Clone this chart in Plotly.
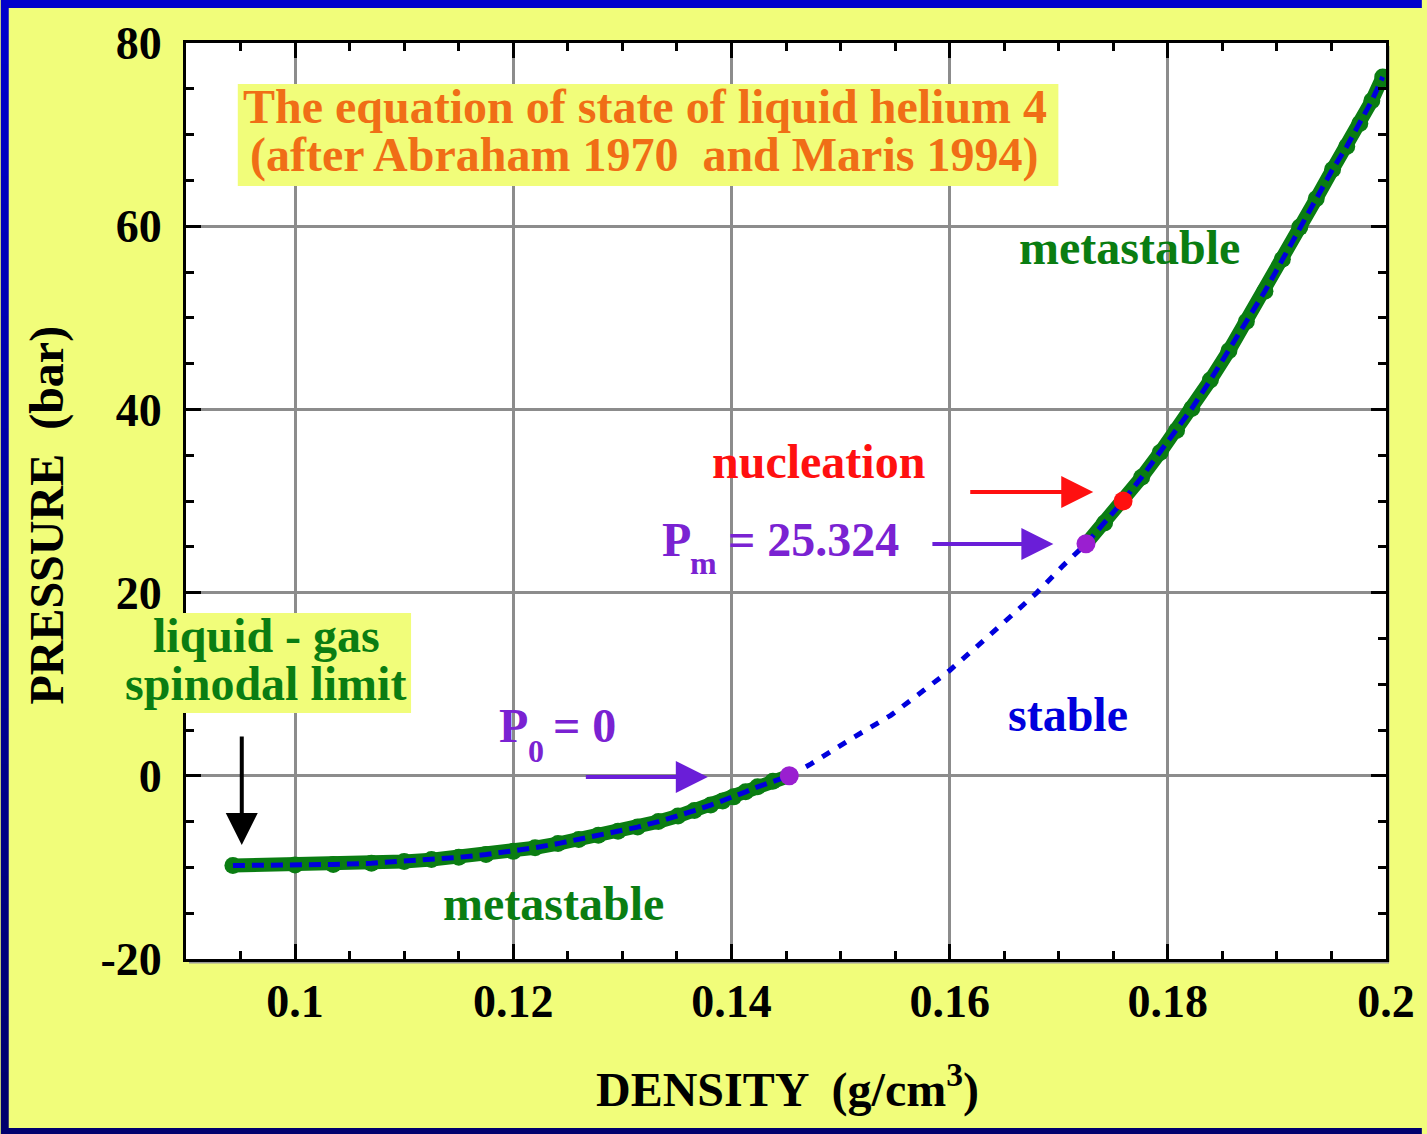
import plotly.graph_objects as go

# ---------------- data ----------------
rho_low = [0.0943, 0.1000, 0.1035, 0.1070, 0.1100, 0.1125, 0.1150, 0.1175, 0.1200, 0.1220,
           0.1241, 0.1260, 0.1278, 0.1296, 0.1314, 0.1333, 0.1351, 0.1366, 0.1381, 0.1392,
           0.1402, 0.1413, 0.1424, 0.1438, 0.1453]
p_low = [-9.80, -9.75, -9.68, -9.55, -9.35, -9.15, -8.90, -8.60, -8.25, -7.85,
         -7.40, -6.95, -6.50, -6.05, -5.60, -5.00, -4.40, -3.80, -3.20, -2.75,
         -2.30, -1.75, -1.20, -0.60, 0.00]

rho_mid = [0.1453, 0.1473, 0.1512, 0.1546, 0.1576, 0.1600, 0.1640, 0.1680, 0.1704, 0.1725]
p_mid = [0.00, 1.30, 4.20, 6.60, 9.30, 11.50, 15.70, 20.00, 22.95, 25.32]

rho_high = [0.1725, 0.1742, 0.1759, 0.1776, 0.1793, 0.1808, 0.1822, 0.1839, 0.1856, 0.1872,
            0.1889, 0.1905, 0.1921, 0.1936, 0.1951, 0.1964, 0.1976, 0.1987, 0.1997]
p_high = [25.32, 27.60, 30.00, 32.60, 35.30, 37.70, 40.10, 43.20, 46.40, 49.60,
          52.90, 56.40, 59.90, 63.00, 66.20, 68.70, 71.20, 73.70, 76.30]

point_rho = [0.1453, 0.1725]          # P0 and Pm
point_p = [0.0, 25.324]
nucleation_rho = [0.1759]
nucleation_p = [30.0]

x_ticks = [0.1, 0.12, 0.14, 0.16, 0.18, 0.2]
x_ticktext = ["0.1", "0.12", "0.14", "0.16", "0.18", "0.2"]
y_ticks = [-20, 0, 20, 40, 60, 80]
y_ticktext = ["-20", "0", "20", "40", "60", "80"]

# ---------------- styling ----------------
FONT = "Liberation Serif, Times New Roman, serif"
YELLOW = "#F1FD7A"
GREEN = "#0A7D12"
BLUE = "#0000DD"
ORANGE = "#F06E16"
PURPLE_T = "#7A22D2"
PURPLE_A = "#6A1ED8"
PURPLE_M = "#9A1FD0"
RED = "#FF1010"

W, H = 1427, 1134
L, R, T, B = 186, 36, 43, 175
PW, PH = W - L - R, H - T - B


def PX(px):
    return (px - L) / PW


def PY(py):
    return (H - B - py) / PH


def RHO(px):
    return 0.09 + (px - L) * 0.11 / PW


def PR(py):
    return 80 - (py - T) * 100 / PH


fig = go.Figure()

# green metastable branches
for xs, ys in ((rho_low, p_low), (rho_high, p_high)):
    fig.add_trace(go.Scatter(x=xs, y=ys, mode="lines+markers",
                             line=dict(color=GREEN, width=14),
                             marker=dict(color=GREEN, size=17, line=dict(width=0)),
                             hoverinfo="skip", showlegend=False))
# blue curve
for xs, ys in ((rho_low, p_low), (rho_high, p_high)):
    fig.add_trace(go.Scatter(x=xs, y=ys, mode="lines",
                             line=dict(color=BLUE, width=5, dash="12px,7px"),
                             hoverinfo="skip", showlegend=False))
fig.add_trace(go.Scatter(x=rho_mid, y=p_mid, mode="lines",
                         line=dict(color=BLUE, width=5, dash="9px,10px"),
                         hoverinfo="skip", showlegend=False))
# special points
fig.add_trace(go.Scatter(x=point_rho, y=point_p, mode="markers",
                         marker=dict(color=PURPLE_M, size=19, line=dict(width=0)),
                         hoverinfo="skip", showlegend=False))
fig.add_trace(go.Scatter(x=nucleation_rho, y=nucleation_p, mode="markers",
                         marker=dict(color=RED, size=19, line=dict(width=0)),
                         hoverinfo="skip", showlegend=False))

shapes = []
# blue frame
shapes.append(dict(type="rect", xref="paper", yref="paper", x0=PX(0), x1=PX(W), y0=PY(8), y1=PY(0),
                   fillcolor="#0000CC", line=dict(width=0), layer="above"))
shapes.append(dict(type="rect", xref="paper", yref="paper", x0=PX(0), x1=PX(W), y0=PY(H), y1=PY(1128),
                   fillcolor="#00006E", line=dict(width=0), layer="above"))
n = 40
for i in range(n):
    t = i / (n - 1)
    c = "rgb(0,0,%d)" % round(204 - t * 95)
    shapes.append(dict(type="rect", xref="paper", yref="paper", x0=PX(0), x1=PX(8),
                       y0=PY(8 + (i + 1) * (1120 / n)), y1=PY(8 + i * (1120 / n)),
                       fillcolor=c, line=dict(width=0), layer="above"))
# axis shadow
shapes.append(dict(type="line", xref="paper", yref="paper", x0=PX(1393), x1=PX(1393), y0=PY(962), y1=PY(46),
                   line=dict(color="#999999", width=3), layer="below"))
shapes.append(dict(type="line", xref="paper", yref="paper", x0=PX(189), x1=PX(1394), y0=PY(962), y1=PY(962),
                   line=dict(color="#999999", width=3), layer="below"))
# text boxes
shapes.append(dict(type="rect", xref="paper", yref="paper", x0=PX(238), x1=PX(1062), y0=PY(186), y1=PY(84),
                   fillcolor=YELLOW, line=dict(width=0), layer="above"))
shapes.append(dict(type="rect", xref="paper", yref="paper", x0=PX(122), x1=PX(412), y0=PY(713), y1=PY(613),
                   fillcolor=YELLOW, line=dict(width=0), layer="above"))

ann = []


def text(s, px, py, color, size=48, anchor="center"):
    ann.append(dict(text=s, x=RHO(px), y=PR(py), xref="x", yref="y", showarrow=False,
                    xanchor=anchor, yanchor="middle",
                    font=dict(family=FONT, size=size, color=color, weight="bold")))


text("The equation of state of liquid helium 4", 647, 106, ORANGE)
text("(after Abraham 1970  and Maris 1994)", 646, 155, ORANGE)
text("metastable", 1133, 247, GREEN)
text("nucleation", 821, 461, RED)
text("P", 662, 539, PURPLE_T, anchor="left")
text("m", 690, 563, PURPLE_T, size=32, anchor="left")
text("= 25.324", 728, 539, PURPLE_T, anchor="left")
text("P", 498, 725, PURPLE_T, anchor="left")
text("0", 527, 751, PURPLE_T, size=32, anchor="left")
text("= 0", 553, 725, PURPLE_T, anchor="left")
text("stable", 1072, 714, BLUE)
text("metastable", 555, 903, GREEN)
text("liquid - gas", 267, 635, GREEN)
text("spinodal limit", 266, 683, GREEN)


def arrow(x0, y0, x1, y1, color):
    ann.append(dict(text="", x=RHO(x1), y=PR(y1), ax=RHO(x0), ay=PR(y0),
                    xref="x", yref="y", axref="x", ayref="y", showarrow=True,
                    arrowhead=2, arrowsize=1.6, arrowwidth=4, arrowcolor=color))


arrow(972, 492, 1097, 492, RED)
arrow(934, 544, 1057, 544, PURPLE_A)
arrow(586, 777, 710, 777, PURPLE_A)
arrow(242, 735, 242, 845, "black")

# axis titles
ann.append(dict(text="DENSITY  (g/cm<sup>3</sup>)", x=PX(790), y=PY(1086), xref="paper", yref="paper",
                showarrow=False, xanchor="center", yanchor="middle",
                font=dict(family=FONT, size=48, color="black", weight="bold")))
ann.append(dict(text="PRESSURE  (bar)", x=PX(46), y=PY(515), xref="paper", yref="paper",
                showarrow=False, xanchor="center", yanchor="middle", textangle=-90,
                font=dict(family=FONT, size=48, color="black", weight="bold")))

axis_common = dict(showline=True, linecolor="black", linewidth=3, mirror="allticks",
                   ticks="inside", ticklen=15, tickwidth=3, tickcolor="black",
                   showgrid=True, gridcolor="#8C8C8C", gridwidth=3, zeroline=False,
                   tickfont=dict(family=FONT, size=46, color="black", weight="bold"))

fig.update_layout(
    width=W, height=H, autosize=False,
    margin=dict(l=L, r=R, t=T, b=B),
    paper_bgcolor=YELLOW, plot_bgcolor="white",
    showlegend=False,
    xaxis=dict(range=[0.09, 0.2], tickvals=x_ticks, ticktext=x_ticktext, ticklabelstandoff=0,
               minor=dict(ticks="inside", ticklen=8, tickwidth=3, tickcolor="black", dtick=0.005,
                          tick0=0.09, showgrid=False),
               **axis_common),
    yaxis=dict(range=[-20, 80], tickvals=y_ticks, ticktext=y_ticktext, ticklabelstandoff=12,
               minor=dict(ticks="inside", ticklen=8, tickwidth=3, tickcolor="black", dtick=5,
                          tick0=0, showgrid=False),
               **axis_common),
    shapes=shapes,
    annotations=ann,
)

fig.write_html("out.html")
